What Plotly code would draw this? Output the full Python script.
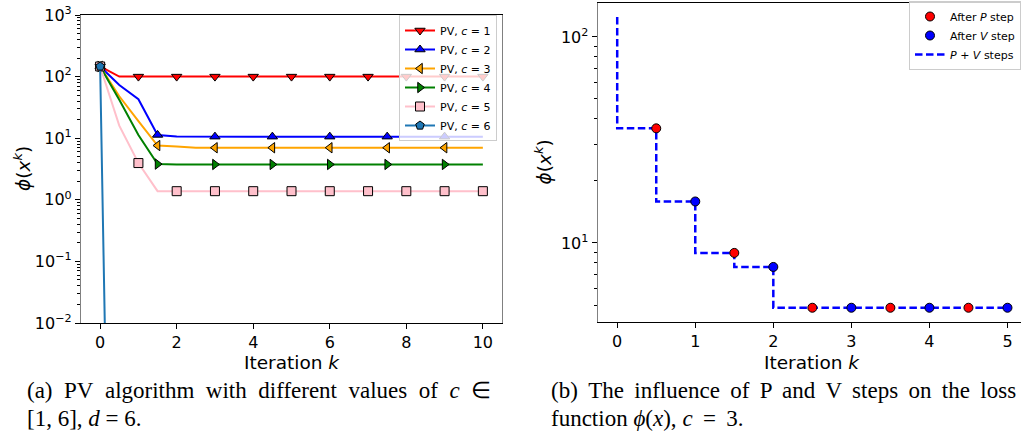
import plotly.graph_objects as go

# ---------------- data: left panel (PV algorithm, c = 1..6) ----------------
k_left = [0, 0.5, 1, 1.5, 2, 2.5, 3, 3.5, 4, 4.5, 5, 5.5, 6, 6.5, 7, 7.5, 8, 8.5, 9, 9.5, 10]
phi_c1 = [146, 100, 100, 100, 100, 100, 100, 100, 100, 100, 100, 100, 100, 100, 100, 100, 100, 100, 100, 100, 100]
phi_c2 = [146, 73, 43, 11.3, 10.7, 10.6, 10.6, 10.6, 10.6, 10.6, 10.6, 10.6, 10.6, 10.6, 10.6, 10.6, 10.6, 10.6, 10.6, 10.6, 10.6]
phi_c3 = [146, 48, 19, 7.6, 7.3, 7.0, 7.0, 7.0, 7.0, 7.0, 7.0, 7.0, 7.0, 7.0, 7.0, 7.0, 7.0, 7.0, 7.0, 7.0, 7.0]
phi_c4 = [146, 42, 11.3, 3.8, 3.75, 3.75, 3.75, 3.75, 3.75, 3.75, 3.75, 3.75, 3.75, 3.75, 3.75, 3.75, 3.75, 3.75, 3.75, 3.75, 3.75]
phi_c5 = [146, 16, 3.95, 1.38, 1.38, 1.38, 1.38, 1.38, 1.38, 1.38, 1.38, 1.38, 1.38, 1.38, 1.38, 1.38, 1.38, 1.38, 1.38, 1.38, 1.38]
phi_c6 = [146, 1e-15, 1e-15, 1e-15, 1e-15, 1e-15, 1e-15, 1e-15, 1e-15, 1e-15, 1e-15, 1e-15, 1e-15, 1e-15, 1e-15, 1e-15, 1e-15, 1e-15, 1e-15, 1e-15, 1e-15]
series_names = ["PV, <i>c</i> = 1", "PV, <i>c</i> = 2", "PV, <i>c</i> = 3",
                "PV, <i>c</i> = 4", "PV, <i>c</i> = 5", "PV, <i>c</i> = 6"]

# ---------------- data: right panel (P and V steps, c = 3) ----------------
k_right = [0, 0.5, 1, 1.5, 2, 2.5, 3, 3.5, 4, 4.5, 5]
phi_right = [125, 36, 15.9, 8.95, 7.65, 4.85, 4.85, 4.85, 4.85, 4.85, 4.85]
p_steps_k = [0.5, 1.5, 2.5, 3.5, 4.5]
p_steps_phi = [36, 8.95, 4.85, 4.85, 4.85]
v_steps_k = [1, 2, 3, 4, 5]
v_steps_phi = [15.9, 7.65, 4.85, 4.85, 4.85]

# ---------------- styling ----------------
colors = ["red", "blue", "orange", "green", "pink", "#1f77b4"]
symbols = ["triangle-down", "triangle-up", "triangle-left", "triangle-right", "square", "pentagon"]
mark_every = [2, 3, 3, 3, 2, 2]
series = [phi_c1, phi_c2, phi_c3, phi_c4, phi_c5, phi_c6]

FONT = "DejaVu Sans"
fig = go.Figure()

for i, ys in enumerate(series):
    fig.add_trace(go.Scatter(x=k_left, y=ys, mode="lines", line=dict(color=colors[i], width=2),
                             showlegend=False, xaxis="x", yaxis="y", hoverinfo="skip"))
    idx = list(range(0, len(k_left), mark_every[i]))
    fig.add_trace(go.Scatter(x=[k_left[j] for j in idx], y=[ys[j] for j in idx], mode="markers",
                             marker=dict(symbol=symbols[i], color=colors[i], size=9,
                                         line=dict(color="black", width=1)),
                             showlegend=False, xaxis="x", yaxis="y", cliponaxis=True))
    fig.add_trace(go.Scatter(x=[None], y=[None], mode="lines+markers", name=series_names[i],
                             line=dict(color=colors[i], width=2),
                             marker=dict(symbol=symbols[i], color=colors[i], size=9,
                                         line=dict(color="black", width=1)),
                             legend="legend", xaxis="x", yaxis="y"))

# right panel
fig.add_trace(go.Scatter(x=[None], y=[None], mode="markers", name="After <i>P</i> step",
                         marker=dict(color="red", size=9, line=dict(color="black", width=1)),
                         legend="legend2", xaxis="x2", yaxis="y2"))
fig.add_trace(go.Scatter(x=[None], y=[None], mode="markers", name="After <i>V</i> step",
                         marker=dict(color="blue", size=9, line=dict(color="black", width=1)),
                         legend="legend2", xaxis="x2", yaxis="y2"))
fig.add_trace(go.Scatter(x=k_right, y=phi_right, mode="lines", line_shape="vh",
                         name="<i>P</i> + <i>V</i> steps",
                         line=dict(color="blue", width=2.5, dash="7.5px,3.5px"),
                         legend="legend2", xaxis="x2", yaxis="y2"))
fig.add_trace(go.Scatter(x=p_steps_k, y=p_steps_phi, mode="markers", showlegend=False,
                         marker=dict(color="red", size=9, line=dict(color="black", width=1)),
                         xaxis="x2", yaxis="y2"))
fig.add_trace(go.Scatter(x=v_steps_k, y=v_steps_phi, mode="markers", showlegend=False,
                         marker=dict(color="blue", size=9, line=dict(color="black", width=1)),
                         xaxis="x2", yaxis="y2"))

W, H = 1021, 434


def px(x):
    return x / W


def py(y):
    return 1 - y / H


def sup(e):
    return "10<sup>" + str(e).replace("-", "\u2212") + "</sup>"


minor_left = [m * 10.0 ** d for d in range(-2, 3) for m in range(2, 10)]
minor_right = [m * 10.0 ** d for d in range(0, 2) for m in range(2, 10)]

tickfont = dict(family=FONT, size=16, color="black")
titlefont = dict(family=FONT, size=18.5, color="black")

common_x = dict(ticks="outside", ticklen=5, tickcolor="black", showline=True, linecolor="black",
                linewidth=1.2, mirror=True, showgrid=False, zeroline=False, tickfont=tickfont,
                automargin=False)
common_y = dict(type="log", ticks="outside", ticklen=5, tickcolor="black", showline=True,
                linecolor="#808080", linewidth=1.2, showgrid=False, zeroline=False,
                tickfont=tickfont, automargin=False)

fig.update_layout(
    width=W, height=H, margin=dict(l=0, r=0, t=0, b=0, pad=0, autoexpand=False),
    paper_bgcolor="white", plot_bgcolor="white",
    xaxis=dict(domain=[px(81), px(502)], range=[-0.5, 10.5], tickvals=[0, 2, 4, 6, 8, 10],
               anchor="y", **common_x),
    yaxis=dict(domain=[py(323), py(15)], range=[-2, 3],
               tickvals=[1e-2, 1e-1, 1, 10, 100, 1000], ticktext=[sup(e) for e in range(-2, 4)],
               mirror=True,
               minor=dict(tickvals=minor_left, ticks="outside", ticklen=3, tickcolor="black", showgrid=False),
               anchor="x", **common_y),
    xaxis2=dict(domain=[px(597.7), 1.0], range=[-0.25, 5.25 - 6 / 78.1], tickvals=[0, 1, 2, 3, 4, 5],
                anchor="y2", **common_x),
    yaxis2=dict(domain=[py(321.7), py(2.7)], range=[0.618, 2.166],
                tickvals=[10, 100], ticktext=[sup(1), sup(2)],
                minor=dict(tickvals=minor_right, ticks="outside", ticklen=3, tickcolor="black", showgrid=False),
                anchor="x2", **common_y),
    legend=dict(x=px(497), y=py(15), xanchor="right", yanchor="top", bgcolor="rgba(255,255,255,0.8)",
                bordercolor="#cccccc", borderwidth=1, font=dict(family=FONT, size=11, color="black"),
                tracegroupgap=0, itemwidth=30),
    legend2=dict(x=1.0, y=py(1), xanchor="right", yanchor="top", bgcolor="rgba(255,255,255,0.8)",
                 bordercolor="#cccccc", borderwidth=1, font=dict(family=FONT, size=11, color="black"),
                 tracegroupgap=0, itemwidth=30),
)

# axis titles
ylab = "<i>ϕ</i>(<i>x</i><sup><i>k</i></sup>)"
axis_titles = [
    (291.5, 362.5, "Iteration <i>k</i>", 0),
    (812, 362.5, "Iteration <i>k</i>", 0),
    (22, 169, ylab, -90),
    (543.5, 162, ylab, -90),
]
for cx, cy, txt, ang in axis_titles:
    fig.add_annotation(x=px(cx), y=py(cy), xref="paper", yref="paper", text=txt, showarrow=False,
                       xanchor="center", yanchor="middle", textangle=ang, font=titlefont)

# captions (spaces widened to imitate justified LaTeX lines)
cap_font = dict(family="Liberation Serif", size=23, color="black")
EN = "\u2002"
ST = " \u2009"
captions = [
    (25, 390, EN.join(["(a)", "PV", "algorithm", "with", "different", "values", "of", "<i>c</i>", "∈"])),
    (25, 418, "[1, 6], <i>d</i> = 6."),
    (549, 390, ST.join(["(b)", "The", "influence", "of", "P", "and", "V", "steps", "on", "the", "loss"])),
    (549, 418, "function <i>ϕ</i>(<i>x</i>), <i>c</i>\u2009 = \u20093."),
]
for cx, cy, txt in captions:
    fig.add_annotation(x=px(cx), y=py(cy), xref="paper", yref="paper", text=txt, showarrow=False,
                       xanchor="left", yanchor="middle", font=cap_font)

fig.write_html("out.html")
